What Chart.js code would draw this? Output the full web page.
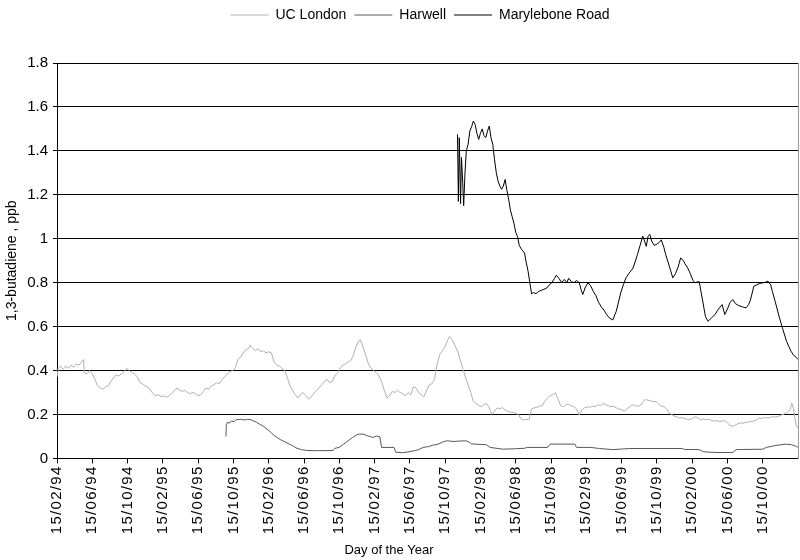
<!DOCTYPE html>
<html>
<head>
<meta charset="utf-8">
<title>1,3-butadiene</title>
<script src="https://cdn.jsdelivr.net/npm/chart.js@4/dist/chart.umd.min.js"></script>
<style>
  html, body { margin: 0; padding: 0; background: #fff; }
  #chart { display: block; }
</style>
</head>
<body>
<canvas id="chart" width="800" height="560"></canvas>
<script>
// months after 15/02/94, ppb
const ucLondon = [
  [0,0.37],[0.15,0.41],[0.4,0.42],[0.7,0.405],[1.0,0.42],[1.3,0.41],[1.6,0.425],[1.9,0.415],[2.2,0.43],[2.5,0.425],
  [2.8,0.44],[3.0,0.45],[3.1,0.39],[3.4,0.385],[3.7,0.40],[4.0,0.385],[4.3,0.36],[4.6,0.33],[4.9,0.32],[5.2,0.315],
  [5.5,0.325],[5.8,0.33],[6.1,0.35],[6.4,0.365],[6.7,0.38],[7.0,0.375],[7.3,0.385],[7.6,0.395],[7.9,0.41],[8.2,0.40],
  [8.5,0.39],[8.8,0.385],[9.1,0.37],[9.4,0.345],[9.7,0.34],[10.0,0.33],[10.3,0.325],[10.6,0.31],[10.9,0.295],[11.2,0.285],
  [11.5,0.29],[11.8,0.28],[12.1,0.285],[12.4,0.278],[12.7,0.285],[13.0,0.295],[13.3,0.31],[13.6,0.32],[13.9,0.31],[14.2,0.305],
  [14.5,0.31],[14.8,0.30],[15.1,0.295],[15.4,0.30],[15.7,0.295],[16.0,0.285],[16.3,0.29],[16.6,0.305],[16.9,0.32],[17.2,0.315],
  [17.5,0.33],[17.8,0.335],[18.1,0.345],[18.4,0.34],[18.7,0.36],[19.0,0.37],[19.3,0.385],[19.6,0.395],[19.9,0.40],[20.2,0.41],
  [20.5,0.45],[20.8,0.46],[21.1,0.48],[21.4,0.495],[21.7,0.50],[21.9,0.515],[22.2,0.50],[22.5,0.49],[22.8,0.50],[23.1,0.485],
  [23.4,0.49],[23.7,0.48],[24.0,0.485],[24.3,0.48],[24.6,0.44],[24.9,0.425],[25.2,0.42],[25.5,0.41],[25.8,0.40],[26.1,0.37],
  [26.4,0.33],[26.7,0.31],[27.0,0.29],[27.3,0.275],[27.6,0.29],[27.9,0.30],[28.2,0.285],[28.5,0.27],[28.8,0.28],[29.1,0.295],
  [29.4,0.31],[29.7,0.32],[30.0,0.335],[30.3,0.35],[30.6,0.36],[30.9,0.345],[31.2,0.35],[31.5,0.375],[31.8,0.39],[32.1,0.41],
  [32.4,0.425],[32.7,0.43],[33.0,0.44],[33.3,0.445],[33.6,0.47],[33.9,0.51],[34.2,0.535],[34.4,0.54],[34.7,0.505],[35.0,0.47],
  [35.3,0.43],[35.6,0.41],[35.9,0.40],[36.2,0.39],[36.5,0.375],[36.8,0.35],[37.1,0.31],[37.4,0.275],[37.7,0.285],[38.0,0.305],
  [38.3,0.30],[38.6,0.31],[38.9,0.30],[39.2,0.295],[39.5,0.285],[39.8,0.30],[40.1,0.29],[40.4,0.325],[40.7,0.32],[41.0,0.30],
  [41.3,0.29],[41.6,0.28],[41.9,0.31],[42.2,0.335],[42.5,0.34],[42.8,0.36],[43.1,0.43],[43.4,0.475],[43.7,0.49],[44.0,0.51],
  [44.3,0.54],[44.5,0.555],[44.8,0.54],[45.1,0.515],[45.4,0.49],[45.7,0.45],[46.0,0.41],[46.3,0.37],[46.6,0.335],[46.9,0.30],
  [47.2,0.26],[47.5,0.25],[47.8,0.24],[48.1,0.235],[48.4,0.245],[48.7,0.25],[49.0,0.23],[49.3,0.20],[49.6,0.215],[49.9,0.23],
  [50.2,0.225],[50.5,0.232],[50.8,0.22],[51.1,0.215],[51.4,0.21],[51.7,0.21],[52.0,0.205],[52.3,0.20],[52.6,0.18],[52.9,0.175],
  [53.2,0.178],[53.5,0.176],[53.8,0.225],[54.1,0.23],[54.4,0.233],[54.7,0.237],[55.0,0.24],[55.3,0.26],[55.6,0.275],[55.9,0.285],
  [56.2,0.29],[56.5,0.298],[56.8,0.27],[57.1,0.24],[57.4,0.235],[57.7,0.245],[58.0,0.247],[58.3,0.24],[58.6,0.235],[58.9,0.225],
  [59.2,0.198],[59.5,0.22],[59.8,0.23],[60.1,0.235],[60.4,0.232],[60.7,0.238],[61.0,0.235],[61.3,0.245],[61.6,0.24],[61.9,0.25],
  [62.2,0.245],[62.5,0.24],[62.8,0.235],[63.1,0.237],[63.4,0.23],[63.7,0.225],[64.0,0.222],[64.3,0.215],[64.6,0.225],[64.9,0.235],
  [65.2,0.245],[65.5,0.24],[65.8,0.237],[66.1,0.24],[66.4,0.255],[66.7,0.268],[67.0,0.265],[67.3,0.262],[67.6,0.258],[67.9,0.26],
  [68.2,0.248],[68.5,0.238],[68.8,0.236],[69.1,0.225],[69.4,0.205],[69.7,0.20],[70.0,0.192],[70.3,0.188],[70.6,0.184],[70.9,0.186],
  [71.2,0.18],[71.5,0.178],[71.8,0.176],[72.1,0.185],[72.4,0.19],[72.7,0.182],[73.0,0.176],[73.3,0.18],[73.6,0.176],[73.9,0.178],
  [74.2,0.172],[74.5,0.17],[74.8,0.172],[75.1,0.168],[75.4,0.17],[75.7,0.172],[76.0,0.162],[76.3,0.15],[76.6,0.146],[76.9,0.152],
  [77.2,0.158],[77.5,0.162],[77.8,0.16],[78.1,0.164],[78.4,0.166],[78.7,0.168],[79.0,0.17],[79.3,0.176],[79.6,0.184],[79.9,0.182],
  [80.2,0.186],[80.5,0.184],[80.8,0.185],[81.1,0.19],[81.4,0.188],[81.7,0.19],[82.0,0.196],[82.3,0.20],[82.6,0.205],[82.9,0.214],
  [83.1,0.22],[83.3,0.252],[83.5,0.225],[83.65,0.184],[83.8,0.15],[84.0,0.138]
];

const harwell = [
  [19.15,0.10],[19.2,0.155],[19.35,0.165],[19.5,0.16],[19.8,0.17],[20.1,0.168],[20.3,0.176],[20.8,0.178],[21.3,0.175],[21.6,0.178],
  [22.0,0.176],[22.3,0.17],[22.6,0.165],[23.0,0.155],[23.4,0.146],[23.8,0.134],[24.2,0.12],[24.6,0.105],[24.9,0.096],[25.3,0.086],
  [25.7,0.078],[26.2,0.068],[26.7,0.058],[27.2,0.046],[27.7,0.04],[28.3,0.036],[29.5,0.035],[31.3,0.036],[31.5,0.046],[32.0,0.05],
  [32.5,0.065],[33.0,0.08],[33.5,0.095],[34.0,0.108],[34.3,0.111],[34.8,0.11],[35.2,0.102],[35.5,0.10],[35.8,0.095],[36.2,0.102],
  [36.6,0.098],[36.8,0.05],[38.2,0.05],[38.4,0.028],[39.2,0.026],[39.9,0.03],[40.5,0.035],[41.0,0.04],[41.5,0.05],[42.0,0.053],
  [42.6,0.06],[43.2,0.065],[43.8,0.076],[44.2,0.08],[45.0,0.077],[45.6,0.079],[46.4,0.08],[46.8,0.072],[47.0,0.066],[48.7,0.062],
  [49.1,0.05],[50.0,0.045],[50.6,0.042],[52.0,0.044],[53.0,0.046],[53.3,0.05],[55.6,0.05],[55.9,0.065],[58.7,0.065],[58.9,0.05],
  [60.5,0.05],[61.5,0.045],[63.0,0.04],[64.9,0.045],[70.9,0.045],[71.1,0.041],[72.8,0.04],[73.3,0.03],[74.7,0.027],[76.6,0.027],
  [77.0,0.04],[80.0,0.042],[80.4,0.05],[81.5,0.059],[82.6,0.065],[83.3,0.062],[83.8,0.055],[84.0,0.05]
];

const marylebone = [
  [45.4,1.475],[45.5,1.17],[45.6,1.46],[45.75,1.16],[45.85,1.37],[46.0,1.25],[46.1,1.15],[46.25,1.30],[46.4,1.40],[46.6,1.43],
  [46.8,1.49],[47.0,1.51],[47.2,1.536],[47.4,1.52],[47.6,1.48],[47.8,1.452],[48.0,1.48],[48.2,1.50],[48.4,1.47],[48.6,1.46],
  [48.8,1.49],[49.0,1.513],[49.2,1.46],[49.4,1.43],[49.6,1.36],[49.8,1.30],[50.0,1.262],[50.2,1.24],[50.4,1.225],[50.6,1.24],
  [50.8,1.27],[51.0,1.22],[51.2,1.18],[51.4,1.13],[51.6,1.10],[51.8,1.07],[52.0,1.03],[52.2,1.01],[52.4,0.97],[52.6,0.955],
  [52.8,0.945],[53.0,0.935],[53.2,0.89],[53.4,0.852],[53.6,0.80],[53.8,0.749],[54.0,0.755],[54.3,0.75],[54.6,0.76],[54.9,0.765],
  [55.2,0.77],[55.5,0.775],[55.8,0.79],[56.1,0.80],[56.4,0.82],[56.6,0.834],[56.9,0.82],[57.2,0.80],[57.5,0.815],[57.8,0.80],
  [58.0,0.82],[58.3,0.805],[58.6,0.80],[58.9,0.81],[59.2,0.80],[59.4,0.77],[59.6,0.746],[59.9,0.78],[60.2,0.80],[60.5,0.785],
  [60.8,0.76],[61.1,0.74],[61.4,0.71],[61.7,0.69],[62.0,0.675],[62.3,0.655],[62.6,0.64],[63.0,0.63],[63.4,0.67],[63.9,0.753],
  [64.2,0.79],[64.5,0.822],[64.8,0.84],[65.3,0.867],[65.5,0.89],[65.8,0.928],[66.1,0.97],[66.4,1.012],[66.6,0.99],[66.8,0.965],
  [67.0,1.01],[67.2,1.02],[67.4,0.99],[67.7,0.97],[68.0,0.975],[68.3,0.985],[68.5,0.995],[68.8,0.96],[69.0,0.928],[69.3,0.89],
  [69.6,0.85],[69.8,0.822],[70.1,0.84],[70.4,0.87],[70.7,0.913],[71.0,0.90],[71.2,0.885],[71.5,0.867],[71.8,0.84],[72.1,0.81],
  [72.3,0.80],[72.8,0.805],[73.0,0.76],[73.2,0.716],[73.5,0.647],[73.8,0.624],[74.2,0.64],[74.6,0.655],[74.9,0.675],[75.2,0.69],
  [75.4,0.70],[75.7,0.655],[76.0,0.68],[76.3,0.71],[76.6,0.723],[76.9,0.705],[77.3,0.695],[77.7,0.69],[78.1,0.685],[78.4,0.70],
  [78.6,0.72],[79.0,0.784],[79.3,0.79],[79.6,0.795],[79.9,0.799],[80.2,0.80],[80.6,0.807],[80.9,0.79],[81.1,0.76],[81.4,0.716],
  [81.9,0.64],[82.3,0.585],[82.7,0.533],[83.2,0.488],[83.5,0.47],[83.8,0.46],[84.0,0.45]
];

const seriesNames = ['UC London', 'Harwell', 'Marylebone Road'];
const seriesColors = ['#b0b0b0', '#585858', '#000000'];

const xTickLabels = [
  '15/02/94', '15/06/94', '15/10/94',
  '15/02/95', '15/06/95', '15/10/95',
  '15/02/96', '15/06/96', '15/10/96',
  '15/02/97', '15/06/97', '15/10/97',
  '15/02/98', '15/06/98', '15/10/98',
  '15/02/99', '15/06/99', '15/10/99',
  '15/02/00', '15/06/00', '15/10/00'
];
const xTickStep = 4; // months between labels
const xEnd = 84;

const yTickLabels = ['0', '0.2', '0.4', '0.6', '0.8', '1', '1.2', '1.4', '1.6', '1.8'];
const yStep = 0.2;

Chart.defaults.font.family = '"Liberation Sans", Arial, sans-serif';
Chart.defaults.color = '#000';

// extra room under the legend, legend nudged right, axis caption nudged left
const boxNudge = {
  id: 'boxNudge',
  beforeInit(chart) {
    const fit = chart.legend.fit;
    chart.legend.fit = function () {
      fit.call(this);
      this.height += 31;
    };
  },
  afterLayout(chart) {
    chart.legend.left += 21;
    chart.legend.right += 21;
    if (chart.titleBlock) {
      chart.titleBlock.left -= 10;
      chart.titleBlock.right -= 10;
    }
  },
};

// date labels on the x axis are drawn a little spaced out
const spacedTicks = {
  id: 'spacedTicks',
  afterDatasetsDraw(chart) {
    chart.ctx.letterSpacing = '1.3px';
  },
  afterDraw(chart) {
    chart.ctx.letterSpacing = '0px';
  },
};

const toPoints = (rows) => rows.map(([m, v]) => ({ x: m, y: v }));

const datasets = [ucLondon, harwell, marylebone].map((rows, i) => ({
  label: seriesNames[i],
  data: toPoints(rows),
  borderColor: seriesColors[i],
  backgroundColor: seriesColors[i],
  borderWidth: 1,
  pointRadius: 0,
  tension: 0,
  fill: false,
}));

new Chart(document.getElementById('chart'), {
  type: 'line',
  data: { datasets },
  options: {
    responsive: false,
    animation: false,
    devicePixelRatio: 1,
    layout: { padding: { left: 0, right: 2, top: 0, bottom: 0 } },
    plugins: {
      legend: {
        position: 'top',
        labels: {
          usePointStyle: true,
          pointStyle: 'line',
          pointStyleWidth: 38,
          padding: 8,
          font: { size: 14 },
          color: '#000',
        },
      },
      title: {
        display: true,
        position: 'bottom',
        text: 'Day of the Year',
        font: { size: 13, weight: 'normal' },
        color: '#000',
        padding: { top: 0, bottom: 2 },
      },
      tooltip: { enabled: false },
    },
    scales: {
      x: {
        type: 'linear',
        min: 0,
        max: xEnd,
        afterBuildTicks: (scale) => {
          scale.ticks = xTickLabels.map((_, i) => ({ value: i * xTickStep }));
        },
        afterFit: (scale) => { scale.height = 84; },
        ticks: {
          autoSkip: false,
          minRotation: 90,
          maxRotation: 90,
          padding: 2,
          z: 1,
          font: { size: 15 },
          color: '#000',
          callback: (value, index) => xTickLabels[index],
        },
        grid: {
          drawOnChartArea: false,
          drawTicks: true,
          tickLength: 5,
          color: '#000',
        },
        border: { color: '#000', width: 1 },
      },
      y: {
        min: 0,
        max: 1.8,
        afterBuildTicks: (scale) => {
          scale.ticks = yTickLabels.map((_, i) => ({ value: +(i * yStep).toFixed(1) }));
        },
        afterFit: (scale) => { scale.width = 57; },
        ticks: {
          padding: 5,
          font: { size: 15 },
          color: '#000',
          callback: (value, index) => yTickLabels[index],
        },
        grid: {
          color: '#000',
          lineWidth: 1,
          tickLength: 4,
        },
        border: { color: '#000', width: 1 },
        title: {
          display: true,
          text: '1,3-butadiene , ppb',
          font: { size: 14 },
          color: '#000',
          padding: { top: 4, bottom: 2 },
        },
      },
      // plain frame line on the right edge of the plot
      yRight: {
        position: 'right',
        min: 0,
        max: 1.8,
        ticks: { display: false },
        grid: { display: false, drawTicks: false },
        border: { color: '#9a9a9a', width: 1 },
        afterFit: (scale) => { scale.width = 0; },
      },
    },
  },
  plugins: [boxNudge, spacedTicks],
});
</script>
</body>
</html>
